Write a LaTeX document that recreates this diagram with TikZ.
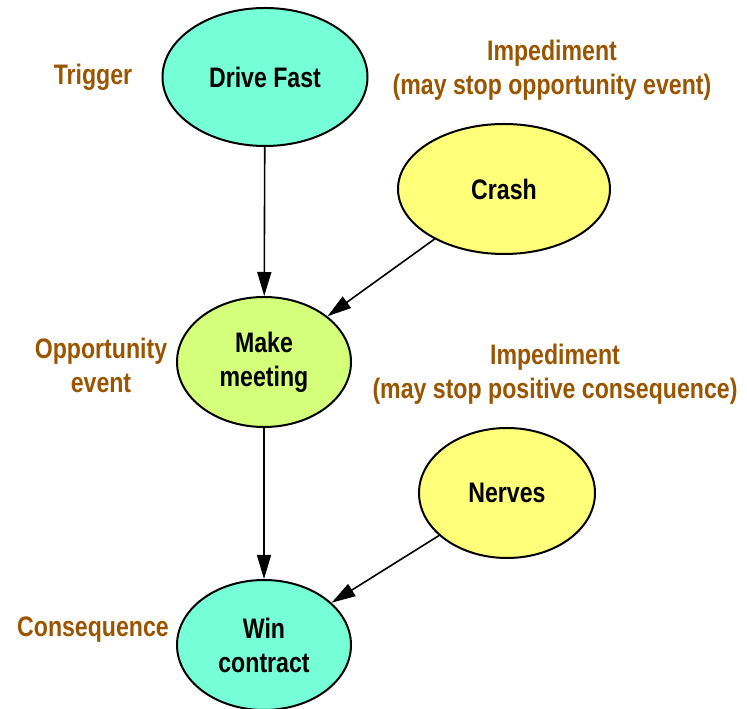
\documentclass[tikz,border=0pt]{standalone}
\usepackage{fontspec}
\setmainfont{Liberation Sans}[FakeStretch=0.82]
\usepackage{tikz}
\usetikzlibrary{shapes.geometric,arrows.meta}
\definecolor{aqua}{RGB}{118,255,214}
\definecolor{lime}{RGB}{212,255,122}
\definecolor{lemon}{RGB}{255,255,122}
\definecolor{rust}{RGB}{153,85,0}
\tikzset{
	event/.style    = {draw, ellipse, line width=2pt, inner sep=0pt,
		align=center, font=\eventfont},
	cause/.style    = {event, fill=aqua}, % Trigger / Consequence
	chance/.style   = {event, fill=lime}, % Opportunity
	block/.style    = {event, fill=lemon}, % Impediment
	role/.style     = {text=rust, align=center, font=\eventfont}
}
\newcommand{\eventfont}{\fontsize{28.2pt}{34pt}\selectfont\bfseries}

\begin{document}
\begin{tikzpicture}[x=1pt, y=1pt, line width=1.6pt, >={Triangle[length=24pt,width=14pt]}]
	\useasboundingbox (0,0) rectangle (747,709);
	\draw
	% Drawing the event nodes
	node at (265,632)[cause, minimum width=205pt, minimum height=138pt] (drive) {Drive Fast}
	node at (504,520)[block, minimum width=212pt, minimum height=130pt] (crash) {Crash}
	node at (264,347)[chance, minimum width=174pt, minimum height=130pt] (meet) {Make\\meeting}
	node at (507,216)[block, minimum width=176pt, minimum height=130pt] (nerves) {Nerves}
	node at (264,64)[cause, minimum width=174pt, minimum height=130pt] (win) {Win\\contract}
	;
	
	\draw[->](drive) -- (meet);
	\draw[->](crash) -- (meet);
	\draw[->](meet) -- (win);
	\draw[->](nerves) -- (win);
	
	% Role labels
	\draw
	node at (93,632)[role] (trig) {Trigger}
	node at (552,639)[role] (imp1) {Impediment\\(may stop opportunity event)}
	node at (101,344)[role] (opp) {Opportunity\\event}
	node at (555,335)[role] (imp2) {Impediment\\(may stop positive consequence)}
	node at (93,79)[role] (cons) {Consequence};
\end{tikzpicture}
\end{document}
